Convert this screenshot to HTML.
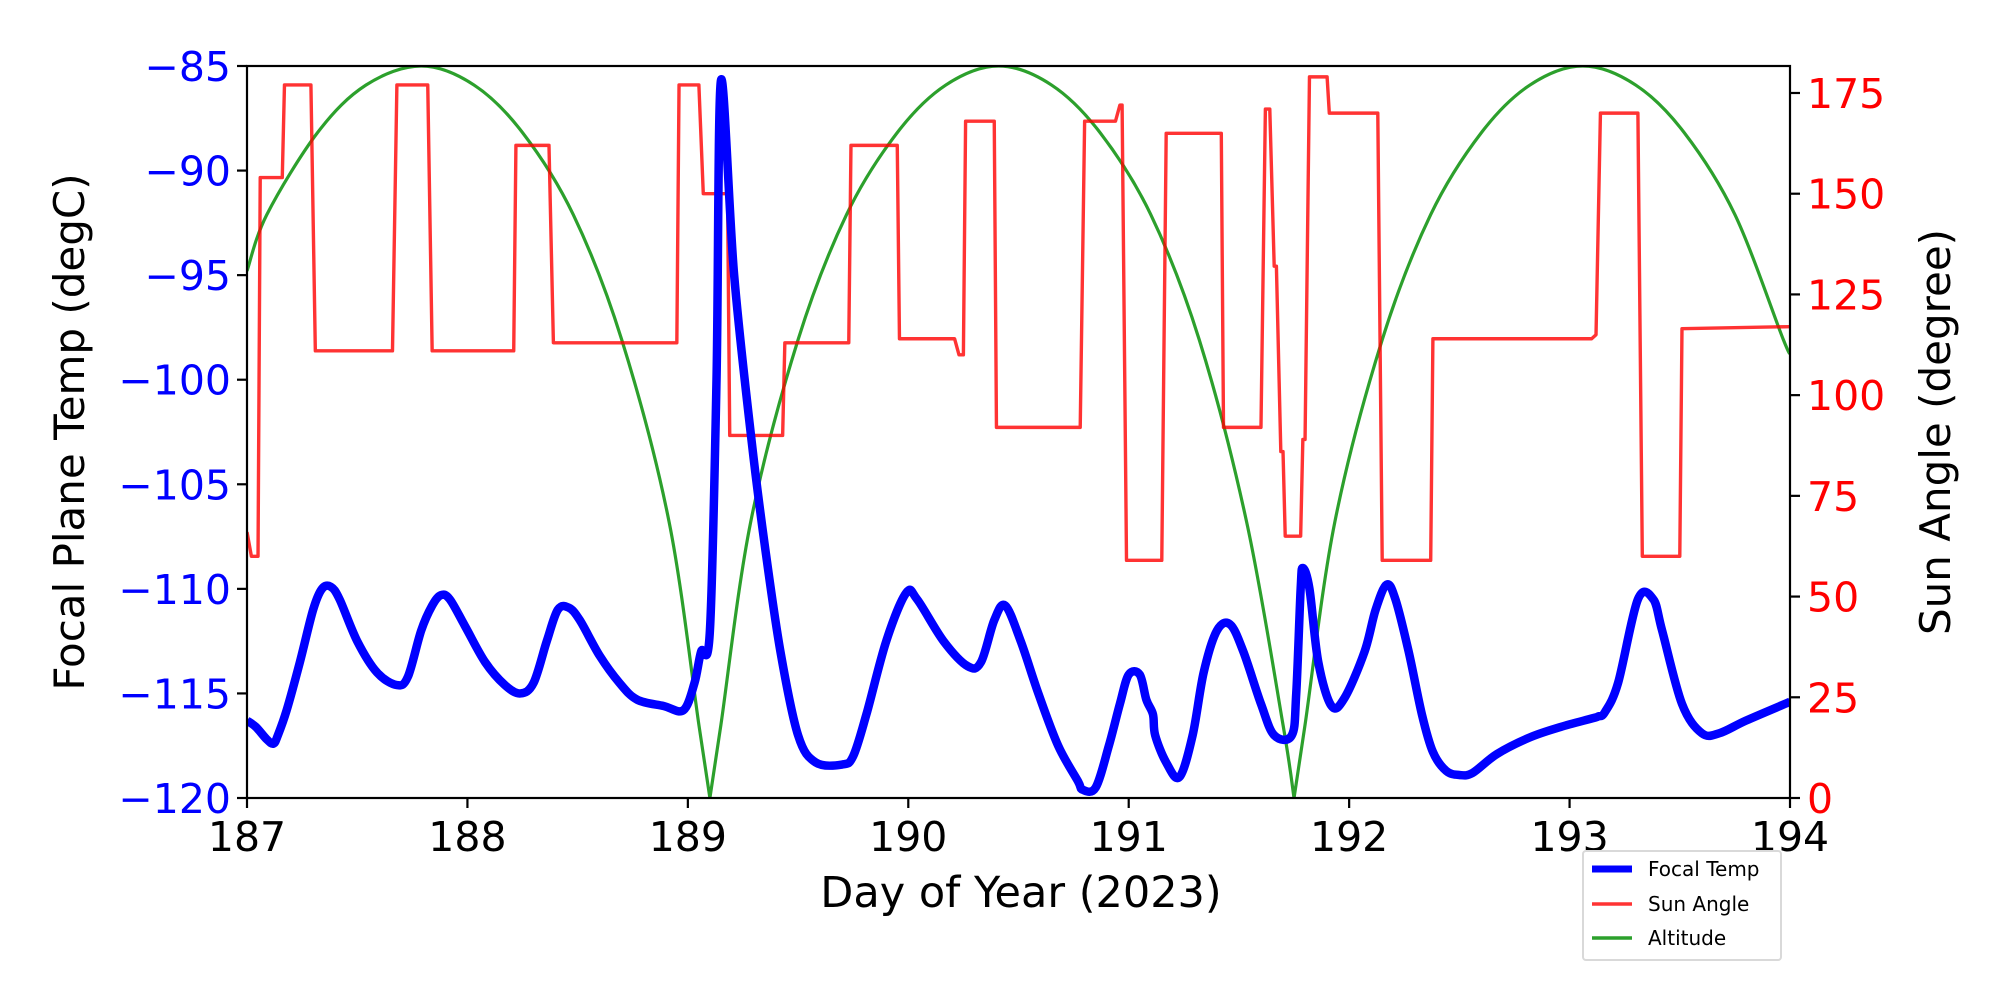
<!DOCTYPE html>
<html><head><meta charset="utf-8"><style>
html,body{margin:0;padding:0;background:#fff;}
svg{display:block;font-family:"DejaVu Sans","Liberation Sans",sans-serif;}
</style></head><body>
<svg id="chart" width="2000" height="1000" viewBox="0 0 2000 1000" xmlns="http://www.w3.org/2000/svg" style="position:absolute;left:0;top:0">
<rect width="2000" height="1000" fill="#fff"/>
<g id="plot"></g>
<g id="axes"></g>
</svg>
<script>
const xTicks=[187,188,189,190,191,192,193,194];
const tempTicks=[-85,-90,-95,-100,-105,-110,-115,-120];
const sunTicks=[0,25,50,75,100,125,150,175];
const tempDays=[187.00,187.04,187.09,187.12,187.14,187.18,187.24,187.30,187.34,187.38,187.42,187.50,187.59,187.68,187.73,187.79,187.84,187.88,187.92,187.99,188.08,188.17,188.24,188.30,188.36,188.41,188.46,188.51,188.60,188.69,188.77,188.89,188.98,189.03,189.06,189.10,189.13,189.15,189.21,189.29,189.35,189.42,189.50,189.58,189.70,189.75,189.81,189.90,189.99,190.04,190.16,190.27,190.33,190.39,190.44,190.51,190.59,190.68,190.77,190.79,190.85,190.91,190.96,191.00,191.05,191.08,191.11,191.12,191.17,191.23,191.29,191.34,191.40,191.46,191.52,191.60,191.66,191.74,191.76,191.78,191.79,191.82,191.86,191.92,191.98,192.07,192.12,192.17,192.21,192.27,192.33,192.38,192.44,192.50,192.56,192.67,192.82,192.96,193.10,193.13,193.16,193.22,193.31,193.38,193.42,193.51,193.60,193.68,193.80,194.00];
const tempVals=[-116.3,-116.6,-117.2,-117.4,-117,-115.8,-113.5,-111,-110,-109.9,-110.5,-112.5,-114,-114.6,-114.2,-112,-110.8,-110.3,-110.5,-111.8,-113.5,-114.6,-115,-114.5,-112.5,-111,-110.9,-111.5,-113.2,-114.5,-115.3,-115.6,-115.8,-114.5,-113,-112,-100,-85.7,-95,-103,-108,-113,-117,-118.3,-118.4,-118,-116,-112.5,-110.2,-110.5,-112.5,-113.7,-113.5,-111.5,-110.8,-112.5,-115,-117.5,-119.2,-119.6,-119.5,-117.5,-115.5,-114.1,-114.1,-115.3,-116,-117,-118.3,-119,-117,-114,-112,-111.7,-113,-115.5,-117,-117,-115,-110,-109,-110,-113.5,-115.6,-115.2,-113,-111,-109.8,-110.5,-113,-116,-117.8,-118.7,-118.9,-118.8,-117.9,-117.1,-116.6,-116.2,-116.1,-115.9,-114.5,-110.5,-110.5,-112,-115.5,-116.9,-116.9,-116.3,-115.4];
const sunDays=[187.00,187.02,187.05,187.06,187.16,187.17,187.29,187.31,187.66,187.68,187.82,187.84,188.21,188.22,188.37,188.39,188.95,188.96,189.05,189.07,189.18,189.19,189.43,189.44,189.73,189.74,189.95,189.96,190.21,190.23,190.25,190.26,190.39,190.40,190.78,190.80,190.94,190.96,190.97,190.99,191.15,191.17,191.42,191.43,191.60,191.62,191.64,191.66,191.67,191.69,191.70,191.71,191.78,191.79,191.80,191.82,191.90,191.91,192.13,192.15,192.37,192.38,193.10,193.12,193.14,193.31,193.33,193.50,193.51,194.00];
const sunVals=[66,60,60,154,154,177,177,111,111,177,177,111,111,162,162,113,113,177,177,150,150,90,90,113,113,162,162,114,114,110,110,168,168,92,92,168,168,172,172,59,59,165,165,92,92,171,171,132,132,86,86,65,65,89,89,179,179,170,170,59,59,114,114,115,170,170,60,60,116.5,117];
const altDays=[187.00,187.09,187.32,187.54,187.79,188.03,188.25,188.48,188.70,188.915,189.05,189.10,189.15,189.285,189.50,189.72,189.95,190.17,190.41,190.65,190.87,191.10,191.32,191.535,191.70,191.75,191.80,191.935,192.15,192.37,192.60,192.82,193.06,193.30,193.52,193.75,193.97,194.00];
const altVals=[0.72,0.797,0.909,0.974,1,0.974,0.909,0.797,0.626,0.377,0.1,0,0.1,0.377,0.626,0.797,0.909,0.974,1,0.974,0.909,0.797,0.626,0.377,0.1,0,0.1,0.377,0.626,0.797,0.909,0.974,1,0.974,0.909,0.797,0.626,0.61];

const L=247,R=1790,T=66,B=798;
const xs=d=>L+(d-187)/7*(R-L);
const yT=v=>T+(-85-v)/35*(B-T);
const yS=v=>B-v/181.7*(B-T);
const yA=v=>B-v*(B-T);
const NS="http://www.w3.org/2000/svg";
const plot=document.getElementById('plot'),axes=document.getElementById('axes');
function mk(tag,attrs,parent){const e=document.createElementNS(NS,tag);for(const k in attrs)e.setAttribute(k,attrs[k]);parent.appendChild(e);return e;}
const clip=mk('clipPath',{id:'cp'},plot);mk('rect',{x:L,y:T,width:R-L,height:B-T},clip);
const g=mk('g',{'clip-path':'url(#cp)'},plot);

function smooth(pts,breakAt){
  let d='M'+pts[0][0]+','+pts[0][1];
  for(let i=0;i<pts.length-1;i++){
    const p1=pts[i],p2=pts[i+1];
    const p0=(i>0&&!breakAt(i))?pts[i-1]:p1;
    const p3=(i+2<pts.length&&!breakAt(i+1))?pts[i+2]:p2;
    const c1=[p1[0]+(p2[0]-p0[0])/6,p1[1]+(p2[1]-p0[1])/6];
    const c2=[p2[0]-(p3[0]-p1[0])/6,p2[1]-(p3[1]-p1[1])/6];
    d+=` C${c1[0]},${c1[1]} ${c2[0]},${c2[1]} ${p2[0]},${p2[1]}`;
  }
  return d;
}
const alt=mk('path',{d:smooth(altDays.map((d,i)=>[xs(d),yA(altVals[i])]),i=>altVals[i]===0),fill:'none',stroke:'#2ca02c','stroke-width':3.2},g);



const sun=mk('polyline',{points:sunDays.map((d,i)=>xs(d)+','+yS(sunVals[i])).join(' '),fill:'none',stroke:'#ff0000','stroke-opacity':0.8,'stroke-width':3.4,'stroke-linejoin':'round'},g);



const tmp=mk('path',{d:smooth(tempDays.map((d,i)=>[xs(d),yT(tempVals[i])]),i=>false),fill:'none',stroke:'#0000ff','stroke-width':8.5,'stroke-linejoin':'round'},g);



const frame=mk('rect',{x:L,y:T,width:R-L,height:B-T,fill:'none',stroke:'#000','stroke-width':2.2},axes);



xTicks.forEach(t=>{
  const x=xs(t);
  mk('line',{x1:x,y1:B,x2:x,y2:B+10,stroke:'#000','stroke-width':2.2},axes);
  const tx=mk('text',{x:x,y:B+53,'font-size':41,'text-anchor':'middle',fill:'#000'},axes);
  tx.textContent=t;
  
  
});
tempTicks.forEach(t=>{
  const y=yT(t);
  mk('line',{x1:L-10,y1:y,x2:L,y2:y,stroke:'#000','stroke-width':2.2},axes);
  const tx=mk('text',{x:L-16,y:y+15,'font-size':41,'text-anchor':'end',fill:'#0000ff'},axes);
  tx.textContent='\u2212'+Math.abs(t);
  
  
});
sunTicks.forEach(t=>{
  const y=yS(t);
  mk('line',{x1:R,y1:y,x2:R+10,y2:y,stroke:'#000','stroke-width':2.2},axes);
  const tx=mk('text',{x:R+17,y:y+15,'font-size':41,'text-anchor':'start',fill:'#ff0000'},axes);
  tx.textContent=t;
  
  
});
</script>
<svg style="position:absolute;left:0;top:0" width="2000" height="1000" xmlns="http://www.w3.org/2000/svg">
<text x="1021" y="907" font-size="43" text-anchor="middle" font-family="DejaVu Sans, Liberation Sans, sans-serif">Day of Year (2023)</text>
<text transform="translate(84,432) rotate(-90)" font-size="42" text-anchor="middle" font-family="DejaVu Sans, Liberation Sans, sans-serif">Focal Plane Temp (degC)</text>
<text transform="translate(1950,432) rotate(-90)" font-size="42" text-anchor="middle" font-family="DejaVu Sans, Liberation Sans, sans-serif">Sun Angle (degree)</text>
<g font-family="DejaVu Sans, Liberation Sans, sans-serif" font-size="20">
<rect x="1583" y="851" width="198" height="109" fill="#fff" stroke="#d9d9d9" stroke-width="2" rx="3"/>
<g><line x1="1592" y1="869" x2="1632" y2="869" stroke="#0000ff" stroke-width="7"/><text x="1648" y="876">Focal Temp</text></g>
<g><line x1="1592" y1="904" x2="1632" y2="904" stroke="#ff0000" stroke-opacity="0.8" stroke-width="3.4"/><text x="1648" y="911">Sun Angle</text></g>
<g><line x1="1592" y1="938" x2="1632" y2="938" stroke="#2ca02c" stroke-width="3.4"/><text x="1648" y="945">Altitude</text></g>
</g>
</svg>
</body></html>
